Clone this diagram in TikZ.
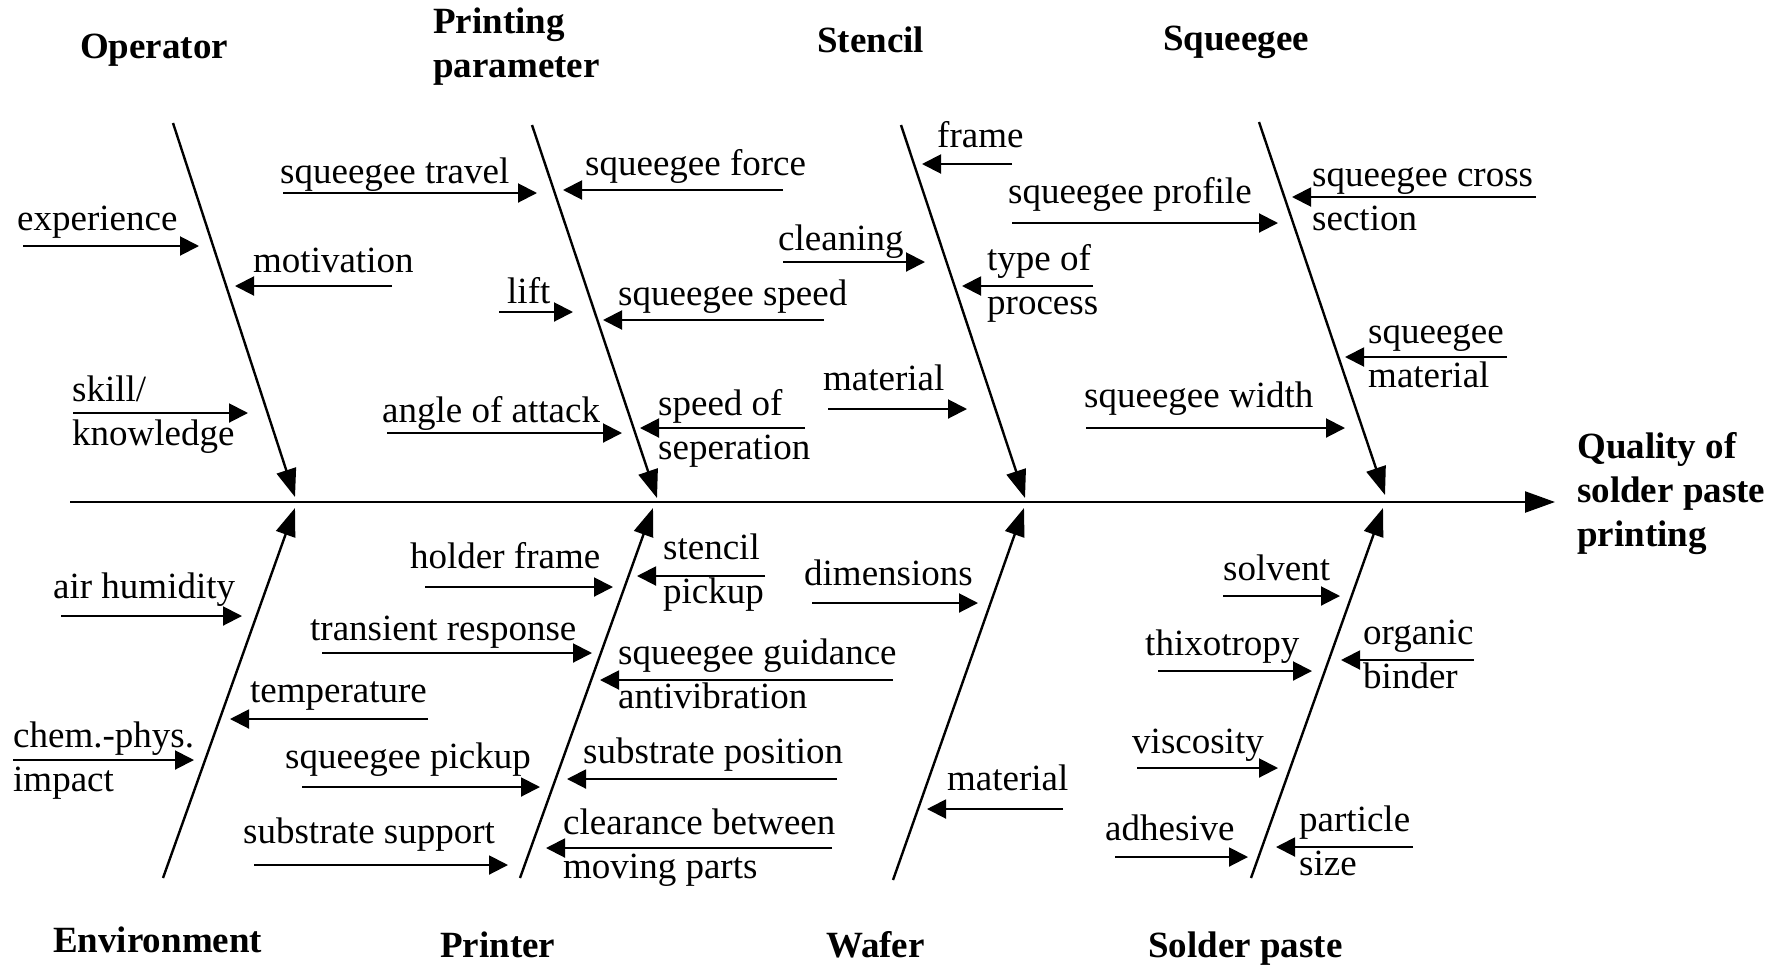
\documentclass[tikz,border=0pt]{standalone}
\usepackage{fontspec}
\setmainfont{Liberation Serif}
\usetikzlibrary{arrows.meta}
\newcommand\subarr[4]{\coordinate (#1-s) at (#2,#4); \coordinate (#1-e) at (#3,#4); \draw[subarrow] (#1-s) -- (#1-e);}
\begin{document}
\begin{tikzpicture}[x=1pt,y=-1pt,
  lbl/.style={anchor=base west, inner sep=0pt, align=left, font=\fontsize{37}{44}\selectfont},
  cat/.style={lbl, font=\fontsize{37}{44}\selectfont\bfseries},
  bone/.style={line width=2.4pt, -{Triangle[length=28pt,width=20pt]}},
  spine/.style={line width=2.4pt, -{Triangle[length=30pt,width=21pt]}},
  subarrow/.style={line width=2pt, -{Triangle[length=19pt,width=19pt]}}]
\useasboundingbox (0,0) rectangle (1780,970);
% spine
\coordinate (spS) at (70,502);
\coordinate (spE) at (1555,502);
\draw[spine] (spS) -- (spE);
% bones
\coordinate (opS) at (173,123); \coordinate (opE) at (295,497);
\coordinate (ppS) at (532,125); \coordinate (ppE) at (657,498);
\coordinate (stS) at (901,125); \coordinate (stE) at (1025,498);
\coordinate (sqS) at (1259,122); \coordinate (sqE) at (1385,495);
\coordinate (enS) at (163,878); \coordinate (enE) at (295,508);
\coordinate (prS) at (520,878); \coordinate (prE) at (653,508);
\coordinate (waS) at (893,880); \coordinate (waE) at (1024,508);
\coordinate (spaS) at (1251,878); \coordinate (spaE) at (1383,508);
\foreach \b in {op,pp,st,sq,en,pr,wa,spa} \draw[bone] (\b S) -- (\b E);
% category labels (multi-line: base = last line)
\node[cat] (cOp) at (80,58) {Operator};
\node[cat] (cPP) at (433,77) {Printing\\parameter};
\node[cat] (cSt) at (817,52) {Stencil};
\node[cat] (cSq) at (1163,50) {Squeegee};
\node[cat] (cQ) at (1577,546) {Quality of\\solder paste\\printing};
\node[cat] (cEn) at (53,952) {Environment};
\node[cat] (cPr) at (440,957) {Printer};
\node[cat] (cWa) at (826,957) {Wafer};
\node[cat] (cSP) at (1148,957) {Solder paste};
% Operator
\node[lbl] (tExp) at (17,230) {experience}; \subarr{aExp}{23}{199}{246}
\node[lbl] (tMot) at (253,272) {motivation}; \subarr{aMot}{392}{235}{286}
\node[lbl] (tSkill) at (72,445) {skill/\\knowledge}; \subarr{aSkill}{73}{248}{413}
% Printing parameter
\node[lbl] (tTrav) at (280,183) {squeegee travel}; \subarr{aTrav}{283}{537}{193}
\node[lbl] (tForce) at (585,175) {squeegee force}; \subarr{aForce}{783}{563}{190}
\node[lbl] (tLift) at (507,303) {lift}; \subarr{aLift}{499}{573}{312}
\node[lbl] (tSpeed) at (618,305) {squeegee speed}; \subarr{aSpeed}{824}{603}{320}
\node[lbl] (tAngle) at (382,422) {angle of attack}; \subarr{aAngle}{387}{622}{433}
\node[lbl] (tSep) at (658,459) {speed of\\seperation}; \subarr{aSep}{805}{640}{428}
% Stencil
\node[lbl] (tFrame) at (937,147) {frame}; \subarr{aFrame}{1012}{922}{164}
\node[lbl] (tClean) at (778,250) {cleaning}; \subarr{aClean}{783}{925}{262}
\node[lbl] (tType) at (987,314) {type of\\process}; \subarr{aType}{1093}{962}{286}
\node[lbl] (tMatS) at (823,390) {material}; \subarr{aMatS}{828}{967}{409}
% Squeegee
\node[lbl] (tProf) at (1008,203) {squeegee profile}; \subarr{aProf}{1012}{1278}{223}
\node[lbl] (tCross) at (1312,230) {squeegee cross\\section}; \subarr{aCross}{1536}{1292}{197}
\node[lbl] (tWidth) at (1084,407) {squeegee width}; \subarr{aWidth}{1086}{1345}{428}
\node[lbl] (tSqMat) at (1368,387) {squeegee\\material}; \subarr{aSqMat}{1507}{1345}{357}
% Environment
\node[lbl] (tAir) at (53,598) {air humidity}; \subarr{aAir}{61}{242}{616}
\node[lbl] (tTemp) at (250,702) {temperature}; \subarr{aTemp}{428}{230}{719}
\node[lbl] (tChem) at (13,791) {chem.-phys.\\impact}; \subarr{aChem}{13}{194}{760}
% Printer
\node[lbl] (tHold) at (410,568) {holder frame}; \subarr{aHold}{425}{613}{587}
\node[lbl] (tTrans) at (310,640) {transient response}; \subarr{aTrans}{322}{592}{653}
\node[lbl] (tSqPick) at (285,768) {squeegee pickup}; \subarr{aSqPick}{302}{540}{787}
\node[lbl] (tSupp) at (243,843) {substrate support}; \subarr{aSupp}{254}{508}{865}
\node[lbl] (tStPick) at (663,603) {stencil\\pickup}; \subarr{aStPick}{765}{637}{576}
\node[lbl] (tGuid) at (618,708) {squeegee guidance\\antivibration}; \subarr{aGuid}{893}{600}{680}
\node[lbl] (tPos) at (583,763) {substrate position}; \subarr{aPos}{837}{567}{779}
\node[lbl] (tClear) at (563,878) {clearance between\\moving parts}; \subarr{aClear}{832}{546}{848}
% Wafer
\node[lbl] (tDim) at (804,585) {dimensions}; \subarr{aDim}{812}{978}{603}
\node[lbl] (tMatW) at (947,790) {material}; \subarr{aMatW}{1063}{927}{809}
% Solder paste
\node[lbl] (tSolv) at (1223,580) {solvent}; \subarr{aSolv}{1223}{1340}{596}
\node[lbl] (tThix) at (1145,655) {thixotropy}; \subarr{aThix}{1158}{1312}{671}
\node[lbl] (tVisc) at (1132,753) {viscosity}; \subarr{aVisc}{1137}{1278}{768}
\node[lbl] (tAdh) at (1105,840) {adhesive}; \subarr{aAdh}{1115}{1248}{857}
\node[lbl] (tOrg) at (1363,688) {organic\\binder}; \subarr{aOrg}{1474}{1341}{660}
\node[lbl] (tPart) at (1299,875) {particle\\size}; \subarr{aPart}{1413}{1276}{847}
\end{tikzpicture}
\end{document}
